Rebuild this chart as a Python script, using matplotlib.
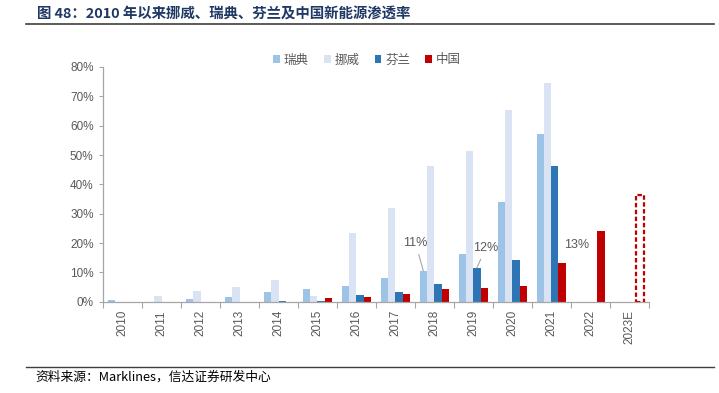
import numpy as np
import matplotlib
matplotlib.use("Agg")
import matplotlib.pyplot as plt
from matplotlib.ticker import FixedLocator, FuncFormatter

plt.rcParams['font.family'] = ['Liberation Sans', 'Noto Sans CJK SC', 'DejaVu Sans']

years = ["2010", "2011", "2012", "2013", "2014", "2015", "2016", "2017",
         "2018", "2019", "2020", "2021", "2022", "2023E"]
series_names = ["瑞典", "挪威", "芬兰", "中国"]
sweden = [0.5, np.nan, 0.9, 1.7, 3.3, 4.3, 5.4, 8.0, 10.5, 16.3, 34.1, 57.3, np.nan, np.nan]
norway = [np.nan, 2.1, 3.6, 4.9, 7.5, 2.0, 23.5, 32.1, 46.1, 51.2, 65.3, 74.5, np.nan, np.nan]
finland = [np.nan, np.nan, np.nan, np.nan, 0.4, 0.3, 2.2, 3.4, 6.2, 11.6, 14.1, 46.4, np.nan, np.nan]
china = [np.nan, np.nan, np.nan, np.nan, np.nan, 1.2, 1.7, 2.5, 4.4, 4.5, 5.2, 13.3, 24.0, np.nan]
china_forecast = [np.nan] * 13 + [36.2]
colors = ["#9DC3E6", "#DAE3F3", "#2E75B6", "#C00000"]

fig = plt.figure(figsize=(7.19, 3.93), dpi=100)
ax = fig.add_axes([103.3 / 719, 1 - 301.7 / 393, (648.5 - 103.3) / 719, (301.7 - 67.0) / 393])

x = np.arange(len(years))
w = 0.1875
offsets = (np.arange(4) - 1.5) * w
data = [sweden, norway, finland, china]
for i, (vals, c, name) in enumerate(zip(data, colors, series_names)):
    ax.bar(x + offsets[i], np.array(vals) / 100, width=w, color=c, linewidth=0, label=name)

ax.bar(x + offsets[3], np.array(china_forecast) / 100, width=w, fill=False,
       edgecolor="#C00000", linewidth=1.6, linestyle=(0, (2, 1.1)))

ax.set_xlim(-0.5, len(years) - 0.5)
ax.set_ylim(0, 0.8)

gray = "#595959"
axis_gray = "#A6A6A6"
for s in ["top", "right"]:
    ax.spines[s].set_visible(False)
for s in ["left", "bottom"]:
    ax.spines[s].set_color(axis_gray)
    ax.spines[s].set_linewidth(0.9)

ax.yaxis.set_major_locator(FixedLocator(np.arange(0, 0.81, 0.1)))
ax.yaxis.set_major_formatter(FuncFormatter(lambda v, p: f"{v*100:.0f}%"))
ax.tick_params(axis="y", direction="out", length=3, color=axis_gray, labelsize=8.5,
               labelcolor=gray, pad=4)

ax.set_xticks(np.arange(-0.5, len(years), 1.0))
ax.set_xticklabels([])
ax.tick_params(axis="x", which="major", direction="out", length=4, color=axis_gray)
ax.set_xticks(x, minor=True)
ax.set_xticklabels(years, minor=True, rotation=90, fontsize=8.5, color=gray)
ax.tick_params(axis="x", which="minor", length=0, pad=6)

# annotations
def bar_top(idx, s):
    return x[idx] + offsets[s], data[s][idx] / 100

bx, by = bar_top(8, 0)
ax.annotate("11%", xy=(bx, by), xytext=(bx - 0.2, 0.200), fontsize=9, color=gray,
            ha="center", va="center",
            arrowprops=dict(arrowstyle="-", color="#A6A6A6", lw=0.8, shrinkA=2, shrinkB=0))
bx, by = bar_top(9, 2)
ax.annotate("12%", xy=(bx, by), xytext=(bx + 0.23, 0.183), fontsize=9, color=gray,
            ha="center", va="center",
            arrowprops=dict(arrowstyle="-", color="#A6A6A6", lw=0.8, shrinkA=2, shrinkB=0))
ax.text(11.65, 0.194, "13%", fontsize=9, color=gray, ha="center", va="center")

leg = fig.legend(loc="center", bbox_to_anchor=(367 / 719, 1 - 60 / 393), ncol=4, frameon=False,
                 handlelength=0.55, handleheight=0.55, handletextpad=0.3, columnspacing=1.2,
                 prop={"family": ["Noto Sans CJK SC"], "size": 9})
for t in leg.get_texts():
    t.set_color(gray)

# title and source
fig.text(37 / 719, 1 - 15 / 393, "图 48：2010 年以来挪威、瑞典、芬兰及中国新能源渗透率",
         fontsize=10.4, fontweight="bold", color="#1F3864", ha="left", va="center",
         family=["Noto Sans CJK SC", "DejaVu Sans"])
fig.add_artist(plt.Line2D([26 / 719, 714 / 719], [1 - 24 / 393, 1 - 24 / 393],
                          color="#404040", lw=1.2, transform=fig.transFigure))
fig.add_artist(plt.Line2D([26 / 719, 714 / 719], [1 - 367.3 / 393, 1 - 367.3 / 393],
                          color="#404040", lw=1.0, transform=fig.transFigure))
fig.text(35 / 719, 1 - 377 / 393, "资料来源：Marklines，信达证券研发中心",
         fontsize=9.2, style="italic", color="#000000", ha="left", va="center",
         family=["Noto Sans CJK SC", "DejaVu Sans"])

fig.savefig("out.png", dpi=100)
